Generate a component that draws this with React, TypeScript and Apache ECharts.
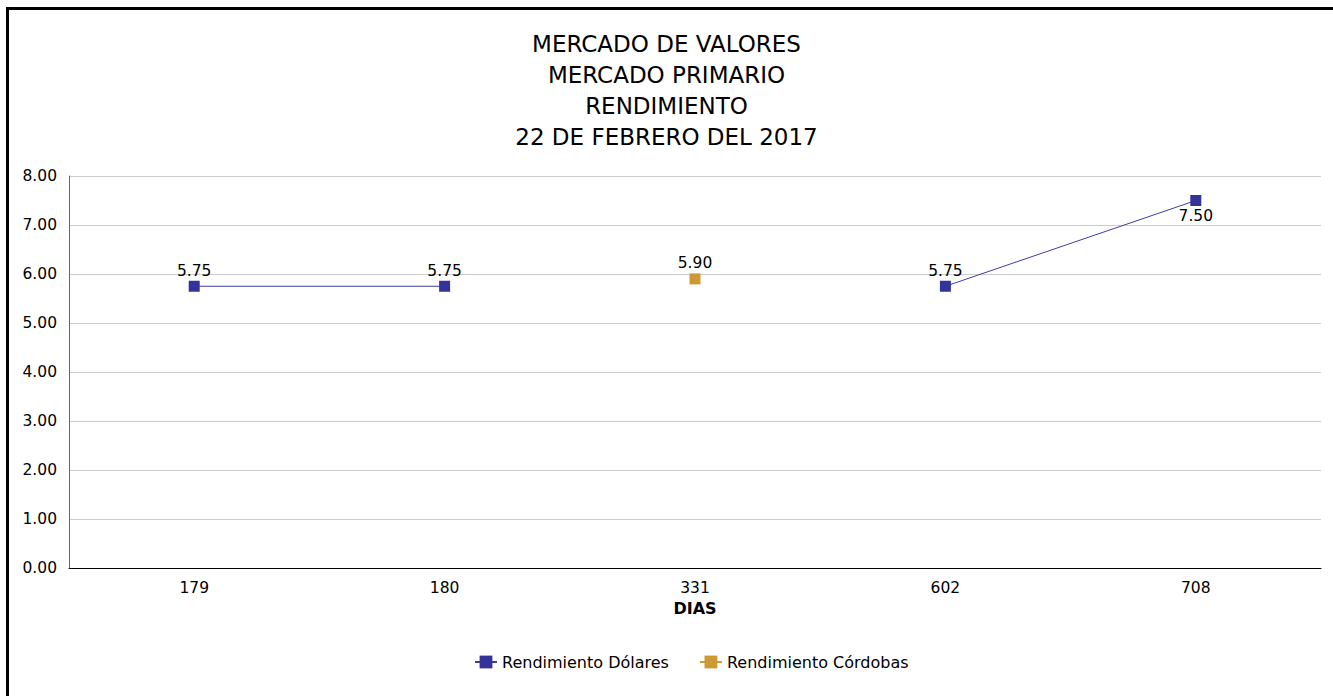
import React, { useEffect, useRef } from "react";
import * as echarts from "echarts";

const titleLines = ["MERCADO DE VALORES", "MERCADO PRIMARIO", "RENDIMIENTO", "22 DE FEBRERO DEL 2017"];
const categories = ["179", "180", "331", "602", "708"];
const dolares: (number | null)[] = [5.75, 5.75, null, 5.75, 7.5];
const cordobas: (number | null)[] = [null, null, 5.9, null, null];
const labelBelow = ["708"];

const FONT = "DejaVu Sans";
const NUM = 15.5;

export default function App() {
  const ref = useRef<HTMLDivElement>(null);
  useEffect(() => {
    if (!ref.current) return;
    const chart = echarts.init(ref.current, null, { renderer: "svg" });
    chart.setOption({
      animation: false,
      backgroundColor: "#ffffff",
      textStyle: { fontFamily: FONT, color: "#000" },
      title: {
        text: titleLines.join("\n"),
        left: "center",
        top: 23,
        textStyle: { fontFamily: FONT, fontSize: 23, fontWeight: "normal", color: "#000", lineHeight: 31 },
      },
      graphic: [
        {
          type: "rect",
          shape: { x: 7.5, y: 8.5, width: 1400, height: 800 },
          style: { fill: "none", stroke: "#000", lineWidth: 3 },
          silent: true,
        },
      ],
      legend: {
        left: 469,
        top: 649,
        itemWidth: 22,
        itemHeight: 16,
        itemGap: 30,
        textStyle: { fontFamily: FONT, fontSize: 16, color: "#000" },
        data: ["Rendimiento Dólares", "Rendimiento Córdobas"],
      },
      grid: { left: 69, right: 12, top: 176, bottom: 128, containLabel: false },
      xAxis: {
        type: "category",
        data: categories,
        boundaryGap: true,
        name: "DIAS",
        nameLocation: "middle",
        nameGap: 28,
        nameTextStyle: { fontFamily: FONT, fontSize: 16, fontWeight: "bold", color: "#000" },
        axisLine: { lineStyle: { color: "#000", width: 1 } },
        axisTick: { show: false },
        axisLabel: { fontFamily: FONT, fontSize: NUM, color: "#000", margin: 12 },
        splitLine: { show: false },
      },
      yAxis: {
        type: "value",
        min: 0,
        max: 8,
        interval: 1,
        axisLine: { show: true, lineStyle: { color: "#666", width: 1 } },
        axisTick: { show: false },
        axisLabel: {
          fontFamily: FONT,
          fontSize: NUM,
          color: "#000",
          margin: 12,
          formatter: (v: number) => v.toFixed(2),
        },
        splitLine: { show: true, lineStyle: { color: "#cccccc", width: 1 } },
      },
      series: [
        {
          name: "Rendimiento Dólares",
          type: "line",
          data: dolares.map((v, i) => ({
            value: v,
            label: { position: labelBelow.includes(categories[i]) ? "bottom" : "top" },
          })),
          connectNulls: false,
          symbol: "rect",
          symbolSize: 11,
          itemStyle: { color: "#333399" },
          lineStyle: { color: "#3d3da3", width: 1 },
          label: {
            show: true,
            fontFamily: FONT,
            fontSize: NUM,
            color: "#000",
            distance: 2,
            formatter: (p: any) => (p.value == null ? "" : Number(p.value).toFixed(2)),
          },
        },
        {
          name: "Rendimiento Córdobas",
          type: "line",
          data: cordobas,
          connectNulls: false,
          symbol: "rect",
          symbolSize: 11,
          itemStyle: { color: "#CC9933" },
          lineStyle: { color: "#CC9933", width: 1 },
          label: {
            show: true,
            position: "top",
            fontFamily: FONT,
            fontSize: NUM,
            color: "#000",
            distance: 2,
            formatter: (p: any) => (p.value == null ? "" : Number(p.value).toFixed(2)),
          },
        },
      ],
    });
    return () => chart.dispose();
  }, []);
  return (
    <div
      ref={ref}
      style={{ position: "fixed", left: 0, top: 0, width: 1333, height: 696, background: "#fff" }}
    />
  );
}
